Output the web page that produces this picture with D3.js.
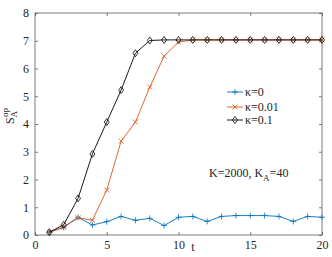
<!DOCTYPE html>
<html>
<head>
<meta charset="utf-8">
<script src="https://cdn.jsdelivr.net/npm/d3@7"></script>
<style>
  body { margin: 0; background: #fff; }
  text { font-family: "Liberation Serif", "Times New Roman", Times, serif !important; fill: #262626; }
</style>
</head>
<body>
<div id="chart"></div>
<script>
// values
var tValues = d3.range(1, 21);
var kappa0 = [0.10, 0.28, 0.64, 0.36, 0.48, 0.67, 0.53, 0.60, 0.34, 0.64,
              0.67, 0.49, 0.67, 0.70, 0.70, 0.70, 0.67, 0.49, 0.67, 0.64];
var kappa001 = [0.10, 0.28, 0.62, 0.53, 1.62, 3.38, 4.07, 5.33, 6.45, 6.95,
                7.03, 7.03, 7.03, 7.03, 7.03, 7.03, 7.03, 7.03, 7.03, 7.03];
var kappa01 = [0.10, 0.37, 1.32, 2.92, 4.07, 5.22, 6.55, 7.01, 7.03, 7.03,
               7.03, 7.03, 7.03, 7.03, 7.03, 7.03, 7.03, 7.03, 7.03, 7.03];
var xTicks = [0, 5, 10, 15, 20];
var yTicks = [0, 1, 2, 3, 4, 5, 6, 7, 8];
var seriesNames = ["\u03ba=0", "\u03ba=0.01", "\u03ba=0.1"];

var width = 332, height = 257;
var margin = {left: 35, right: 10, top: 13, bottom: 22};
var serif = "'Liberation Serif', 'Times New Roman', serif";

var svg = d3.select("#chart").append("svg")
  .attr("width", width)
  .attr("height", height)
  .attr("font-family", serif);

var x = d3.scaleLinear().domain([0, 20]).range([margin.left, width - margin.right]);
var y = d3.scaleLinear().domain([0, 8]).range([height - margin.bottom, margin.top]);

var axisColor = "#5a5a5a";
var tickLen = 3;

// box
svg.append("rect")
  .attr("x", x(0)).attr("y", y(8))
  .attr("width", x(20) - x(0)).attr("height", y(0) - y(8))
  .attr("fill", "none").attr("stroke", axisColor).attr("stroke-width", 0.8);

// axes, ticks pointing inside
var xAxis = svg.append("g").attr("transform", "translate(0," + y(0) + ")")
  .call(d3.axisBottom(x).tickValues(xTicks).tickSize(-tickLen).tickPadding(5));
var xAxisTop = svg.append("g").attr("transform", "translate(0," + y(8) + ")")
  .call(d3.axisTop(x).tickValues(xTicks).tickSize(-tickLen).tickFormat(""));
var yAxis = svg.append("g").attr("transform", "translate(" + x(0) + ",0)")
  .call(d3.axisLeft(y).tickValues(yTicks).tickSize(-tickLen).tickPadding(6));
var yAxisRight = svg.append("g").attr("transform", "translate(" + x(20) + ",0)")
  .call(d3.axisRight(y).tickValues(yTicks).tickSize(-tickLen).tickFormat(""));

[xAxis, xAxisTop, yAxis, yAxisRight].forEach(function (g) {
  g.attr("font-family", serif).attr("font-size", 12);
  g.select(".domain").remove();
  g.selectAll("line").attr("stroke", axisColor).attr("stroke-width", 0.8);
  g.selectAll("text").attr("fill", "#262626");
});

// axis labels
svg.append("text").attr("x", 193).attr("y", 251).attr("font-size", 12)
  .attr("text-anchor", "middle").text("t");

var yl = svg.append("text")
  .attr("transform", "translate(14,116) rotate(-90)")
  .attr("font-size", 12).attr("text-anchor", "middle");
yl.append("tspan").text("S");
yl.append("tspan").attr("font-size", 9).attr("dy", 3).text("A");
yl.append("tspan").attr("font-size", 9).attr("dx", -6).attr("dy", -9).text("op");

// series
var series = [
  {name: seriesNames[0], values: kappa0, color: "#0072BD", marker: "plus"},
  {name: seriesNames[1], values: kappa001, color: "#D95319", marker: "cross"},
  {name: seriesNames[2], values: kappa01, color: "#000000", marker: "diamond"}
];

var line = d3.line()
  .x(function (d, i) { return x(tValues[i]); })
  .y(function (d) { return y(d); });

function drawMarker(g, type, cx, cy, color) {
  if (type === "plus") {
    g.append("path").attr("d", "M" + (cx - 3) + "," + cy + "H" + (cx + 3) + "M" + cx + "," + (cy - 3) + "V" + (cy + 3))
      .attr("stroke", color).attr("stroke-width", 0.8).attr("fill", "none");
  } else if (type === "cross") {
    g.append("path").attr("d", "M" + (cx - 2.5) + "," + (cy - 2.5) + "L" + (cx + 2.5) + "," + (cy + 2.5) +
      "M" + (cx - 2.5) + "," + (cy + 2.5) + "L" + (cx + 2.5) + "," + (cy - 2.5))
      .attr("stroke", color).attr("stroke-width", 0.8).attr("fill", "none");
  } else {
    g.append("path").attr("d", "M" + cx + "," + (cy - 3.5) + "L" + (cx + 2.5) + "," + cy + "L" + cx + "," + (cy + 3.5) +
      "L" + (cx - 2.5) + "," + cy + "Z")
      .attr("stroke", color).attr("stroke-width", 0.8).attr("fill", "none");
  }
}

series.forEach(function (s) {
  var g = svg.append("g");
  g.append("path").datum(s.values).attr("d", line)
    .attr("fill", "none").attr("stroke", s.color).attr("stroke-width", 0.9);
  s.values.forEach(function (v, i) {
    drawMarker(g, s.marker, x(tValues[i]), y(v), s.color);
  });
});

// legend
var legendY = [92, 107, 120];
series.forEach(function (s, i) {
  var g = svg.append("g");
  g.append("line").attr("x1", 227).attr("x2", 243).attr("y1", legendY[i]).attr("y2", legendY[i])
    .attr("stroke", s.color).attr("stroke-width", 0.9);
  drawMarker(g, s.marker, 235, legendY[i], s.color);
  g.append("text").attr("x", 245).attr("y", legendY[i] + 4).attr("font-size", 12).text(s.name);
});

// annotation
var ann = svg.append("text").attr("x", 209).attr("y", 177).attr("font-size", 12);
ann.append("tspan").text("K=2000, K");
ann.append("tspan").attr("font-size", 9).attr("dy", 4).text("A");
ann.append("tspan").attr("dy", -4).text("=40");
</script>
</body>
</html>
